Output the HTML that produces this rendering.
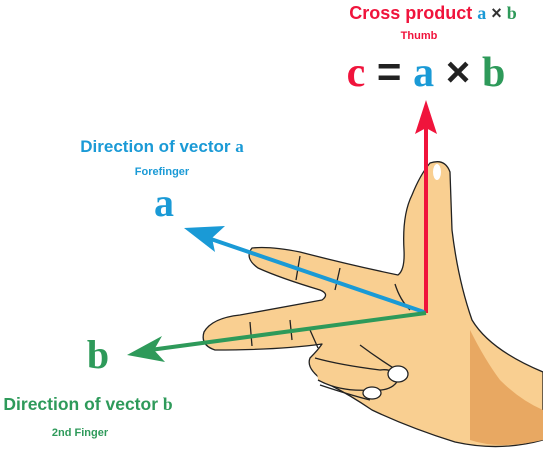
<!DOCTYPE html>
<html><head><meta charset="utf-8"><style>
html,body{margin:0;padding:0;background:#fff;}
svg{display:block;font-family:"Liberation Sans",sans-serif;}
</style></head><body>
<svg width="543" height="457" viewBox="0 0 543 457">
<g stroke="#222" stroke-width="1.3" fill="#f9cf91" stroke-linejoin="round">
<path d="M430,163 Q445,158 450,172 L452,230 Q458,280 472,320 Q490,350 543,372 L543,440 Q500,452 455,442 Q410,428 372,410 Q350,395 330,385 Q305,370 310,358 Q318,350 322,344 Q280,350 215,350 Q200,345 204,332 Q212,318 240,315 Q290,306 322,300 Q330,294 320,290 Q280,278 258,268 Q244,258 252,248 Q270,246 300,252 Q350,265 398,275 Q405,270 404,250 Q402,215 412,195 Q420,175 430,163 Z"/>
<path d="M315,358 Q340,365 380,370 Q395,368 398,380 Q392,392 370,390 Q340,392 318,380" fill="#f9cf91"/>
<path d="M320,385 Q350,395 370,400" fill="none"/>
<path d="M470,330 Q485,360 500,380 Q520,400 543,410 L543,440 Q500,450 470,440 Z" fill="#e8a862" stroke="none"/>
<path d="M310,330 L318,348 M300,256 L296,280 M340,268 L335,290 M395,284 Q400,300 410,310 M360,345 Q380,360 400,372 M290,320 L292,340 M250,322 L252,346" fill="none"/>
<ellipse cx="398" cy="374" rx="10" ry="8" fill="#fff"/>
<ellipse cx="372" cy="393" rx="9" ry="6" fill="#fff"/>
<ellipse cx="437" cy="172" rx="4" ry="8" fill="#fff" stroke="none"/>
</g>
<g>
<line x1="426" y1="313" x2="426" y2="125" stroke="#f0143c" stroke-width="4"/>
<polygon points="426,100 437,134 426,128 415,134" fill="#f0143c"/>
</g>
<g>
<line x1="424" y1="312" x2="205" y2="237" stroke="#1a9ad6" stroke-width="4"/>
<polygon points="184,228 225,226 212,238 215,252" fill="#1a9ad6"/>
</g>
<g>
<line x1="426" y1="313" x2="150" y2="350" stroke="#2e9a5a" stroke-width="4"/>
<polygon points="127,355 162,336 154,350 165,362" fill="#2e9a5a"/>
</g>
<g font-weight="bold">
<text x="433" y="19" text-anchor="middle" font-size="18"><tspan fill="#f0143c">Cross product </tspan><tspan fill="#1a9ad6" font-family="Liberation Serif">a</tspan><tspan fill="#333"> × </tspan><tspan fill="#2e9a5a" font-family="Liberation Serif">b</tspan></text>
<text x="419" y="39" text-anchor="middle" font-size="11" fill="#f0143c">Thumb</text>
<text x="426" y="86" text-anchor="middle" font-size="42" font-family="Liberation Serif"><tspan fill="#f0143c">c</tspan><tspan fill="#222" font-family="Liberation Sans"> = </tspan><tspan fill="#1a9ad6">a</tspan><tspan fill="#222" font-family="Liberation Sans"> × </tspan><tspan fill="#2e9a5a">b</tspan></text>
</g>
<g font-weight="bold" fill="#1a9ad6">
<text x="162" y="152" text-anchor="middle" font-size="17">Direction of vector <tspan font-family="Liberation Serif">a</tspan></text>
<text x="162" y="175" text-anchor="middle" font-size="11">Forefinger</text>
<text x="164" y="216" text-anchor="middle" font-size="40" font-family="Liberation Serif">a</text>
</g>
<g font-weight="bold" fill="#2e9a5a">
<text x="98" y="368" text-anchor="middle" font-size="40" font-family="Liberation Serif">b</text>
<text x="88" y="410" text-anchor="middle" font-size="17.5">Direction of vector <tspan font-family="Liberation Serif">b</tspan></text>
<text x="80" y="436" text-anchor="middle" font-size="11">2nd Finger</text>
</g>
</svg>
</body></html>
